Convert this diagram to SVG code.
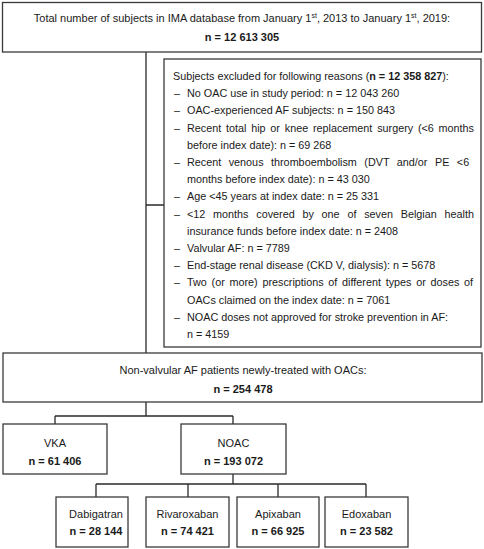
<svg xmlns="http://www.w3.org/2000/svg" width="484" height="549" viewBox="0 0 484 549">
<style>
.box{fill:#fff;stroke:#3a3a3a;stroke-width:1.3}
.t{font-family:"Liberation Sans",Arial,sans-serif;font-size:11px;fill:#1a1a1a}
.c{text-anchor:middle}
.b{font-weight:bold}
.e{font-family:"Liberation Sans",Arial,sans-serif;font-size:10.8px;fill:#1a1a1a}
.ln{fill:none;stroke:#2a2a2a;stroke-width:1.3}
</style>
<rect width="484" height="549" fill="#fff"/>
<g id="connectors">
<path class="ln" d="M146,52 V353 M146,205 H164"/>
<path class="ln" d="M146,402 V416 M55,416 H233 M55,416 V424 M233,416 V424"/>
<path class="ln" d="M233,474 V484 M96,484 H366 M96,484 V497 M188,484 V497 M278,484 V497 M366,484 V497"/>
</g>
<g id="total">
<rect class="box" x="2.5" y="2.5" width="479" height="49.5"/>
<text class="t c" x="242" y="22">Total number of subjects in IMA database from January 1<tspan dy="-4" font-size="7">st</tspan><tspan dy="4">, 2013 to January 1</tspan><tspan dy="-4" font-size="7">st</tspan><tspan dy="4">, 2019:</tspan></text>
<text class="t c b" x="242" y="41">n = 12 613 305</text>
</g>
<g id="excluded">
<rect class="box" x="164" y="59" width="317" height="288"/>
<text class="e" x="173" y="80">Subjects excluded for following reasons (<tspan font-weight="bold">n = 12 358 827</tspan>):</text>
<text class="e" x="174" y="97.2">–</text>
<text class="e" x="187" y="97.2">No OAC use in study period: n = 12 043 260</text>
<text class="e" x="174" y="114.4">–</text>
<text class="e" x="187" y="114.4">OAC-experienced AF subjects: n = 150 843</text>
<text class="e" x="174" y="131.6">–</text>
<text class="e" x="187" y="131.6" word-spacing="1.78">Recent total hip or knee replacement surgery (&lt;6 months</text>
<text class="e" x="187" y="148.8">before index date): n = 69 268</text>
<text class="e" x="174" y="166">–</text>
<text class="e" x="187" y="166" word-spacing="4.5">Recent venous thromboembolism (DVT and/or PE &lt;6</text>
<text class="e" x="187" y="183.2">months before index date): n = 43 030</text>
<text class="e" x="174" y="200.4">–</text>
<text class="e" x="187" y="200.4">Age &lt;45 years at index date: n = 25 331</text>
<text class="e" x="174" y="217.6">–</text>
<text class="e" x="187" y="217.6" word-spacing="4.77">&lt;12 months covered by one of seven Belgian health</text>
<text class="e" x="187" y="234.8">insurance funds before index date: n = 2408</text>
<text class="e" x="174" y="252">–</text>
<text class="e" x="187" y="252">Valvular AF: n = 7789</text>
<text class="e" x="174" y="269.2">–</text>
<text class="e" x="187" y="269.2">End-stage renal disease (CKD V, dialysis): n = 5678</text>
<text class="e" x="174" y="286.4">–</text>
<text class="e" x="187" y="286.4" word-spacing="1.74">Two (or more) prescriptions of different types or doses of</text>
<text class="e" x="187" y="303.6">OACs claimed on the index date: n = 7061</text>
<text class="e" x="174" y="320.8">–</text>
<text class="e" x="187" y="320.8">NOAC doses not approved for stroke prevention in AF:</text>
<text class="e" x="187" y="338">n = 4159</text>
</g>
<g id="nonvalvular">
<rect class="box" x="3" y="353" width="479" height="49"/>
<text class="t c" x="243" y="374">Non-valvular AF patients newly-treated with OACs:</text>
<text class="t c b" x="243" y="393">n = 254 478</text>
</g>
<g id="vka">
<rect class="box" x="3" y="424" width="104" height="50"/>
<text class="t c" x="55" y="447">VKA</text>
<text class="t c b" x="55" y="465">n = 61 406</text>
</g>
<g id="noac">
<rect class="box" x="181" y="424" width="105" height="50"/>
<text class="t c" x="233.5" y="447">NOAC</text>
<text class="t c b" x="233.5" y="465">n = 193 072</text>
</g>
<g id="dabigatran">
<rect class="box" x="56" y="497" width="72" height="50"/>
<text class="t c" x="96" y="518">Dabigatran</text>
<text class="t c b" x="96" y="535">n = 28 144</text>
</g>
<g id="rivaroxaban">
<rect class="box" x="146" y="497" width="83" height="50"/>
<text class="t c" x="187.5" y="518">Rivaroxaban</text>
<text class="t c b" x="187.5" y="535">n = 74 421</text>
</g>
<g id="apixaban">
<rect class="box" x="237" y="497" width="82" height="50"/>
<text class="t c" x="278" y="518">Apixaban</text>
<text class="t c b" x="278" y="535">n = 66 925</text>
</g>
<g id="edoxaban">
<rect class="box" x="325" y="497" width="83" height="50"/>
<text class="t c" x="366.5" y="518">Edoxaban</text>
<text class="t c b" x="366.5" y="535">n = 23 582</text>
</g>
</svg>
